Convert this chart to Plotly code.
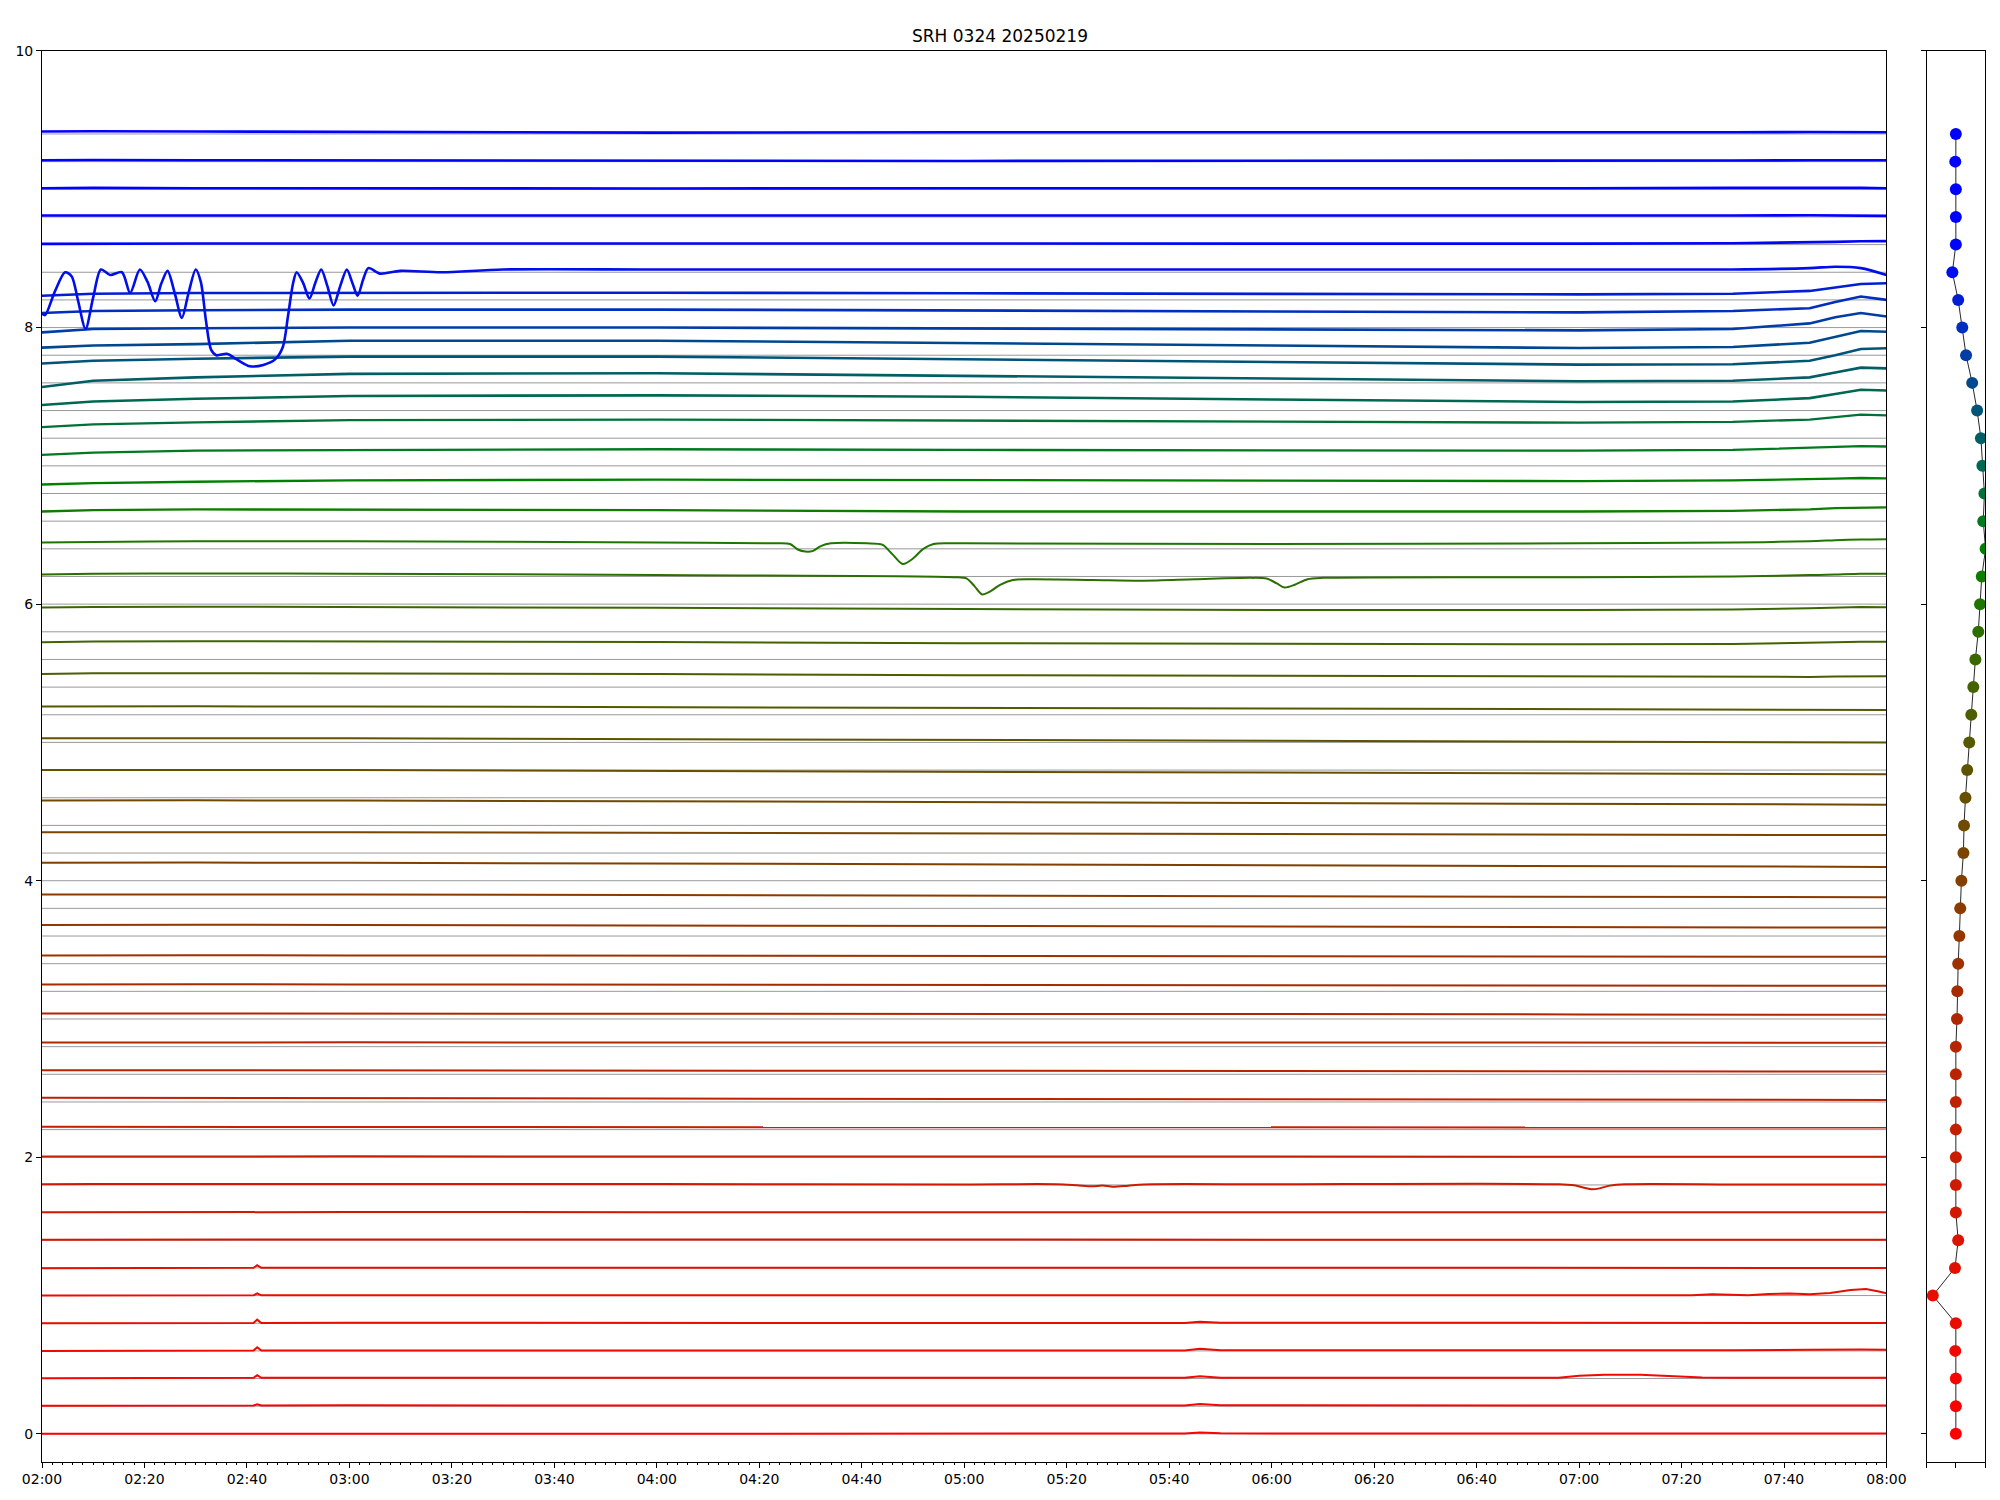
import pandas as pd
import plotly.graph_objects as go

TITLE = "SRH 0324 20250219"
T0 = pd.Timestamp("2025-02-19 02:00")
T_SPAN_MIN = 360

# baseline of every channel (also the gray reference lines)
base_levels = [0.0, 0.2, 0.4, 0.6, 0.8, 1.0, 1.2, 1.4, 1.6, 1.8,
               2.0, 2.2, 2.4, 2.6, 2.8, 3.0, 3.2, 3.4, 3.6, 3.8,
               4.0, 4.2, 4.4, 4.6, 4.8, 5.0, 5.2, 5.4, 5.6, 5.8,
               6.0, 6.2, 6.4, 6.6, 6.8, 7.0, 7.2, 7.4, 7.6, 7.8,
               8.0, 8.2, 8.4, 8.6, 8.8, 9.0, 9.2, 9.4]

# right panel: one value per channel
panel_x = [0.00, 0.00, 0.00, -0.02, 0.00, -0.79, -0.03, 0.08, 0.00, 0.00,
           0.00, 0.00, 0.00, 0.00, 0.00, 0.04, 0.05, 0.08, 0.12, 0.15,
           0.19, 0.26, 0.28, 0.33, 0.39, 0.46, 0.53, 0.60, 0.67, 0.77,
           0.83, 0.89, 1.02, 0.94, 0.98, 0.91, 0.86, 0.73, 0.56, 0.35,
           0.22, 0.08, -0.12, 0.00, 0.00, 0.00, -0.02, 0.00]

# knot times (minutes after 02:00) for the slowly varying traces
KT = [0, 10, 30, 60, 120, 180, 240, 300, 330, 345, 350, 355, 360]

lv00 = [0.000, 0.000, 0.000, 0.000, 0.000, 0.002, 0.003, 0.002, 0.002, 0.002, 0.002, 0.002, 0.002]
lv01 = [0.203, 0.203, 0.205, 0.206, 0.205, 0.205, 0.206, 0.205, 0.205, 0.205, 0.205, 0.205, 0.205]
lv02 = [0.402, 0.402, 0.405, 0.406, 0.405, 0.404, 0.406, 0.405, 0.405, 0.405, 0.405, 0.405, 0.405]
lv03 = [0.600, 0.600, 0.602, 0.603, 0.602, 0.602, 0.604, 0.603, 0.604, 0.608, 0.610, 0.610, 0.608]
lv04 = [0.800, 0.800, 0.802, 0.803, 0.802, 0.801, 0.803, 0.802, 0.802, 0.802, 0.802, 0.802, 0.802]
lv05 = [1.000, 1.000, 1.002, 1.003, 1.002, 1.001, 1.002, 1.002, 1.002, 1.002, 1.002, 1.002, 1.002]
lv06 = [1.198, 1.199, 1.201, 1.202, 1.201, 1.200, 1.201, 1.201, 1.200, 1.200, 1.200, 1.200, 1.200]
lv07 = [1.403, 1.404, 1.405, 1.406, 1.405, 1.404, 1.405, 1.405, 1.404, 1.404, 1.404, 1.404, 1.404]
lv08 = [1.602, 1.603, 1.604, 1.604, 1.603, 1.600, 1.602, 1.602, 1.602, 1.602, 1.602, 1.602, 1.602]
lv09 = [1.805, 1.806, 1.807, 1.806, 1.806, 1.804, 1.805, 1.805, 1.804, 1.804, 1.804, 1.804, 1.804]
lv10 = [2.005, 2.006, 2.007, 2.007, 2.006, 2.005, 2.006, 2.005, 2.004, 2.004, 2.004, 2.004, 2.004]
lv11 = [2.220, 2.220, 2.220, 2.220, 2.219, 2.217, 2.217, 2.216, 2.215, 2.215, 2.215, 2.215, 2.215]
lv12 = [2.430, 2.430, 2.430, 2.428, 2.425, 2.422, 2.420, 2.418, 2.416, 2.416, 2.416, 2.415, 2.415]
lv13 = [2.630, 2.630, 2.630, 2.629, 2.627, 2.625, 2.624, 2.622, 2.621, 2.620, 2.620, 2.620, 2.620]
lv14 = [2.830, 2.831, 2.831, 2.831, 2.830, 2.830, 2.830, 2.830, 2.830, 2.829, 2.829, 2.829, 2.829]
lv15 = [3.040, 3.040, 3.040, 3.039, 3.037, 3.035, 3.036, 3.033, 3.031, 3.030, 3.030, 3.030, 3.030]
lv16 = [3.250, 3.251, 3.251, 3.250, 3.248, 3.246, 3.245, 3.243, 3.241, 3.240, 3.240, 3.240, 3.240]
lv17 = [3.460, 3.461, 3.461, 3.460, 3.458, 3.456, 3.455, 3.453, 3.451, 3.450, 3.450, 3.450, 3.450]
lv18 = [3.680, 3.681, 3.681, 3.680, 3.676, 3.672, 3.670, 3.666, 3.663, 3.662, 3.662, 3.661, 3.661]
lv19 = [3.900, 3.901, 3.901, 3.900, 3.896, 3.892, 3.889, 3.885, 3.882, 3.880, 3.880, 3.880, 3.880]
lv20 = [4.130, 4.131, 4.131, 4.130, 4.124, 4.118, 4.113, 4.108, 4.104, 4.102, 4.101, 4.100, 4.100]
lv21 = [4.350, 4.351, 4.351, 4.350, 4.345, 4.340, 4.336, 4.333, 4.332, 4.331, 4.330, 4.330, 4.330]
lv22 = [4.580, 4.581, 4.581, 4.580, 4.574, 4.568, 4.562, 4.556, 4.553, 4.551, 4.550, 4.550, 4.550]
lv23 = [4.800, 4.801, 4.801, 4.800, 4.794, 4.788, 4.782, 4.776, 4.773, 4.771, 4.770, 4.770, 4.770]
lv24 = [5.030, 5.031, 5.031, 5.030, 5.024, 5.018, 5.012, 5.006, 5.003, 5.001, 5.000, 5.000, 5.000]
lv25 = [5.260, 5.261, 5.261, 5.260, 5.254, 5.248, 5.243, 5.240, 5.237, 5.236, 5.235, 5.235, 5.235]
lv26 = [5.495, 5.500, 5.501, 5.500, 5.494, 5.486, 5.480, 5.474, 5.472, 5.474, 5.476, 5.478, 5.478]
lv27 = [5.725, 5.730, 5.732, 5.731, 5.726, 5.718, 5.713, 5.710, 5.712, 5.718, 5.724, 5.728, 5.728]
lv28 = [5.975, 5.980, 5.982, 5.980, 5.974, 5.965, 5.958, 5.958, 5.962, 5.970, 5.976, 5.979, 5.978]
lv29 = [6.215, 6.220, 6.222, 6.220, 6.210, 6.195, 6.190, 6.195, 6.200, 6.210, 6.215, 6.220, 6.220]
lv30 = [6.445, 6.450, 6.455, 6.455, 6.445, 6.440, 6.435, 6.440, 6.445, 6.455, 6.462, 6.468, 6.470]
lv31 = [6.670, 6.680, 6.685, 6.685, 6.680, 6.670, 6.668, 6.670, 6.675, 6.685, 6.695, 6.700, 6.700]
lv32 = [6.865, 6.875, 6.885, 6.895, 6.900, 6.895, 6.890, 6.890, 6.895, 6.902, 6.908, 6.912, 6.910]
lv33 = [7.080, 7.095, 7.110, 7.115, 7.120, 7.115, 7.112, 7.110, 7.115, 7.128, 7.136, 7.142, 7.140]
lv34 = [7.280, 7.300, 7.315, 7.330, 7.335, 7.330, 7.320, 7.312, 7.318, 7.335, 7.350, 7.370, 7.365]
lv35 = [7.440, 7.465, 7.485, 7.505, 7.510, 7.500, 7.480, 7.462, 7.465, 7.490, 7.520, 7.550, 7.545]
lv36 = [7.570, 7.615, 7.640, 7.665, 7.670, 7.650, 7.630, 7.612, 7.615, 7.640, 7.675, 7.710, 7.705]
lv37 = [7.740, 7.760, 7.775, 7.790, 7.790, 7.770, 7.750, 7.732, 7.735, 7.760, 7.800, 7.845, 7.850]
lv38 = [7.855, 7.870, 7.880, 7.905, 7.905, 7.890, 7.870, 7.852, 7.860, 7.890, 7.935, 7.975, 7.970]
lv39 = [7.965, 7.990, 7.995, 8.000, 8.000, 7.995, 7.990, 7.980, 7.990, 8.030, 8.075, 8.105, 8.080]
lv40 = [8.105, 8.120, 8.125, 8.130, 8.130, 8.125, 8.118, 8.110, 8.120, 8.140, 8.185, 8.225, 8.200]
lv41 = [8.230, 8.245, 8.250, 8.252, 8.252, 8.248, 8.243, 8.240, 8.245, 8.265, 8.290, 8.315, 8.320]
lv42 = [8.420, 8.420, 8.420, 8.420, 8.420, 8.420, 8.420, 8.420, 8.420, 8.430, 8.440, 8.430, 8.380]
lv43 = [8.605, 8.607, 8.608, 8.608, 8.607, 8.606, 8.606, 8.607, 8.610, 8.615, 8.620, 8.624, 8.625]
lv44 = [8.810, 8.810, 8.808, 8.806, 8.805, 8.806, 8.807, 8.808, 8.810, 8.812, 8.812, 8.810, 8.808]
lv45 = [9.008, 9.010, 9.008, 9.006, 9.006, 9.007, 9.006, 9.008, 9.010, 9.012, 9.012, 9.010, 9.008]
lv46 = [9.210, 9.212, 9.210, 9.208, 9.205, 9.205, 9.206, 9.205, 9.208, 9.210, 9.212, 9.210, 9.210]
lv47 = [9.418, 9.420, 9.418, 9.415, 9.410, 9.412, 9.410, 9.410, 9.412, 9.414, 9.415, 9.414, 9.412]

levels = [lv00, lv01, lv02, lv03, lv04, lv05, lv06, lv07, lv08, lv09,
          lv10, lv11, lv12, lv13, lv14, lv15, lv16, lv17, lv18, lv19,
          lv20, lv21, lv22, lv23, lv24, lv25, lv26, lv27, lv28, lv29,
          lv30, lv31, lv32, lv33, lv34, lv35, lv36, lv37, lv38, lv39,
          lv40, lv41, lv42, lv43, lv44, lv45, lv46, lv47]

# 8.4 channel: large oscillations at the start (minutes, value)
osc_t = [0, 0.6, 2.5, 4.5, 5.8, 7.0, 8.5, 10.0, 11.5, 13.3, 15.6, 17.2, 19.1, 20.6,
         22.1, 23.3, 24.5, 25.9, 27.3, 28.6, 30.0, 31.0, 32.0, 33.0, 34.0, 36.1,
         38.0, 40.6, 43.2, 45.5, 47.0, 48.0, 49.0, 49.7, 51.0, 52.2, 53.4, 54.5,
         55.7, 56.9, 58.2, 59.5, 60.6, 61.6, 62.7, 63.7, 66.0, 69.9, 78.0, 90.0]
osc_y = [8.10, 8.09, 8.26, 8.40, 8.37, 8.20, 7.99, 8.22, 8.42, 8.38, 8.40, 8.25, 8.42, 8.33,
         8.19, 8.32, 8.41, 8.25, 8.07, 8.25, 8.42, 8.33, 8.05, 7.84, 7.80, 7.81,
         7.77, 7.72, 7.73, 7.77, 7.86, 8.08, 8.32, 8.40, 8.32, 8.21, 8.33, 8.42,
         8.30, 8.16, 8.30, 8.42, 8.32, 8.23, 8.35, 8.43, 8.39, 8.41, 8.40, 8.42]

# local features (minutes, value)
spk01_t = [41.3, 42.0, 42.8];  spk01_y = [0.205, 0.214, 0.205]
spk02_t = [41.3, 42.0, 42.8];  spk02_y = [0.405, 0.424, 0.405]
spk03_t = [41.3, 42.0, 42.8];  spk03_y = [0.602, 0.626, 0.602]
spk04_t = [41.3, 42.0, 42.8];  spk04_y = [0.802, 0.826, 0.802]
spk05_t = [41.3, 42.0, 42.8];  spk05_y = [1.002, 1.016, 1.002]
spk06_t = [41.3, 42.0, 42.8];  spk06_y = [1.201, 1.219, 1.201]
bmp00_t = [223, 226, 230];     bmp00_y = [0.002, 0.010, 0.004]
bmp01_t = [223, 226, 230];     bmp01_y = [0.205, 0.215, 0.206]
bmp02_t = [223, 226, 230];     bmp02_y = [0.405, 0.417, 0.406]
bmp03_t = [223, 226, 230];     bmp03_y = [0.603, 0.615, 0.604]
bmp04_t = [223, 226, 230];     bmp04_y = [0.802, 0.810, 0.803]
hump02_t = [296, 300, 305, 312, 318, 324]
hump02_y = [0.405, 0.420, 0.428, 0.428, 0.418, 0.407]
tail05_t = [322, 326, 329, 333, 337, 341, 345, 349, 353, 356, 358.5, 360]
tail05_y = [1.002, 1.010, 1.006, 1.003, 1.012, 1.015, 1.010, 1.018, 1.040, 1.047, 1.030, 1.017]
dip09a_t = [198, 202, 205, 207, 209, 212, 215]
dip09a_y = [1.805, 1.797, 1.790, 1.796, 1.787, 1.795, 1.804]
dip09b_t = [296, 299, 301, 302.5, 304, 306, 309]
dip09b_y = [1.805, 1.797, 1.780, 1.768, 1.775, 1.795, 1.805]
dip29a_t = [178, 180.5, 182, 183.5, 185, 187, 189.5, 193, 205, 215, 225]
dip29a_y = [6.195, 6.185, 6.130, 6.070, 6.090, 6.140, 6.175, 6.180, 6.175, 6.170, 6.180]
dip29b_t = [236, 239, 241, 242.5, 244.5, 247, 250]
dip29b_y = [6.190, 6.185, 6.150, 6.120, 6.140, 6.180, 6.190]
dip30a_t = [143, 146, 147.5, 149, 150.5, 152, 154]
dip30a_y = [6.440, 6.435, 6.395, 6.380, 6.385, 6.420, 6.440]
dip30b_t = [161, 164, 166, 168, 170, 172, 174, 177]
dip30b_y = [6.440, 6.430, 6.360, 6.290, 6.330, 6.400, 6.435, 6.440]

features = {
    1: [(spk01_t, spk01_y), (bmp01_t, bmp01_y)],
    2: [(spk02_t, spk02_y), (bmp02_t, bmp02_y), (hump02_t, hump02_y)],
    3: [(spk03_t, spk03_y), (bmp03_t, bmp03_y)],
    4: [(spk04_t, spk04_y), (bmp04_t, bmp04_y)],
    5: [(spk05_t, spk05_y), (tail05_t, tail05_y)],
    6: [(spk06_t, spk06_y)],
    0: [(bmp00_t, bmp00_y)],
    9: [(dip09a_t, dip09a_y), (dip09b_t, dip09b_y)],
    29: [(dip29a_t, dip29a_y), (dip29b_t, dip29b_y)],
    30: [(dip30a_t, dip30a_y), (dip30b_t, dip30b_y)],
    42: [(osc_t, osc_y)],
}

trace_colors = [
    "rgb(255,0,0)", "rgb(250,3,0)", "rgb(245,6,0)", "rgb(240,9,0)", "rgb(235,12,0)",
    "rgb(230,14,0)", "rgb(224,17,0)", "rgb(218,20,0)", "rgb(212,23,0)", "rgb(206,26,0)",
    "rgb(200,29,0)", "rgb(195,31,0)", "rgb(190,33,0)", "rgb(185,35,0)", "rgb(180,37,0)",
    "rgb(175,39,0)", "rgb(166,44,0)", "rgb(157,49,0)", "rgb(148,54,0)", "rgb(139,59,0)",
    "rgb(130,64,0)", "rgb(121,69,0)", "rgb(112,74,0)", "rgb(103,79,0)", "rgb(94,84,0)",
    "rgb(85,89,0)", "rgb(76,94,0)", "rgb(67,99,0)", "rgb(58,104,0)", "rgb(45,110,0)",
    "rgb(30,118,0)", "rgb(15,124,0)", "rgb(0,128,0)", "rgb(0,122,30)", "rgb(0,114,55)",
    "rgb(0,104,80)", "rgb(0,94,100)", "rgb(0,84,120)", "rgb(0,72,142)", "rgb(0,60,165)",
    "rgb(0,46,190)", "rgb(0,30,212)", "rgb(0,14,234)", "rgb(0,4,248)", "rgb(0,0,255)",
    "rgb(0,0,255)", "rgb(0,0,255)", "rgb(0,0,255)"]


def to_time(minutes):
    return [T0 + pd.Timedelta(minutes=float(m)) for m in minutes]


def build_series(k):
    pts = list(zip(KT, levels[k]))
    for ft, fy in features.get(k, []):
        lo, hi = min(ft), max(ft)
        pts = [p for p in pts if p[0] < lo or p[0] > hi] + list(zip(ft, fy))
        pts.sort(key=lambda p: p[0])
    return [p[0] for p in pts], [p[1] for p in pts]


def line_width(k):
    if k >= 35:
        return 2.6
    if k >= 31:
        return 2.3
    return 2.0


FONT = "DejaVu Sans"
fig = go.Figure()

# gray baseline references
gx, gy = [], []
x_start, x_end = T0, T0 + pd.Timedelta(minutes=T_SPAN_MIN)
for b in base_levels:
    gx += [x_start, x_end, None]
    gy += [b, b, None]
fig.add_trace(go.Scatter(x=gx, y=gy, mode="lines", hoverinfo="skip",
                         line=dict(color="rgba(128,128,128,0.8)", width=1),
                         showlegend=False, xaxis="x", yaxis="y"))

for k in range(len(base_levels)):
    t, y = build_series(k)
    shape = "spline" if k in (9, 29, 30, 42) else "linear"
    fig.add_trace(go.Scatter(x=to_time(t), y=y, mode="lines",
                             line=dict(color=trace_colors[k], width=line_width(k),
                                       shape=shape, smoothing=0.8),
                             showlegend=False, xaxis="x", yaxis="y"))

# right panel
fig.add_trace(go.Scatter(x=panel_x, y=base_levels, mode="lines+markers",
                         line=dict(color="rgba(0,0,0,0.85)", width=1),
                         marker=dict(size=12, color=trace_colors, line=dict(width=0)),
                         showlegend=False, xaxis="x2", yaxis="y2"))

axis_common = dict(showline=True, linecolor="black", linewidth=1, mirror=True,
                   showgrid=False, zeroline=False, ticks="outside", ticklen=5,
                   tickwidth=1, tickcolor="black", automargin=False,
                   tickfont=dict(family=FONT, size=14, color="black"))

# the page body adds an 8 px offset; the figure is sized to fill the rest
W, H = 1992, 1492
fig.update_layout(
    width=W, height=H,
    margin=dict(l=0, r=0, t=0, b=0, autoexpand=False),
    paper_bgcolor="white", plot_bgcolor="white",
    xaxis=dict(domain=[0.01707, 0.94302], type="date",
               range=[x_start, x_end],
               tick0=T0, dtick=20 * 60 * 1000, tickformat="%H:%M",
               minor=dict(dtick=2 * 60 * 1000, ticks="outside", ticklen=2.8,
                          tickwidth=0.8, tickcolor="black", showgrid=False),
               **axis_common),
    yaxis=dict(domain=[0.0258, 0.97118], range=[-0.2, 10], tickvals=[0, 2, 4, 6, 8, 10],
               **axis_common),
    xaxis2=dict(domain=[0.9632, 0.99247], range=[-1, 1], tickvals=[-1, 0, 1],
                showticklabels=False, anchor="y2", **axis_common),
    yaxis2=dict(domain=[0.0258, 0.97118], range=[-0.2, 10], tickvals=[0, 2, 4, 6, 8, 10],
                showticklabels=False, anchor="x2", **axis_common),
    annotations=[dict(text=TITLE, xref="paper", yref="paper", x=0.498, y=0.9812,
                      xanchor="center", yanchor="middle", showarrow=False,
                      font=dict(family=FONT, size=17, color="black"))],
)

fig.write_html("out.html")
